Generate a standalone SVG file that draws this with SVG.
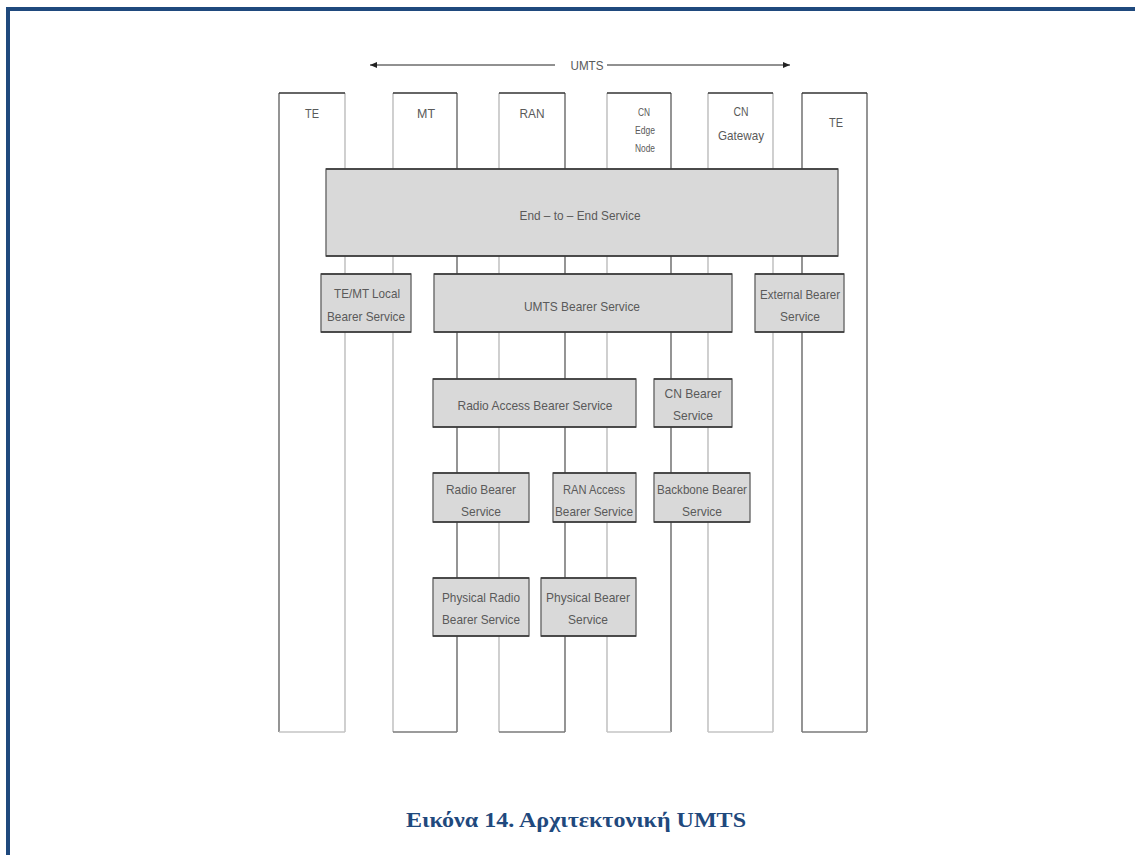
<svg xmlns="http://www.w3.org/2000/svg" width="1135" height="855" viewBox="0 0 1135 855">
<defs>
<marker id="ah" markerWidth="8" markerHeight="8" refX="7" refY="4" orient="auto-start-reverse" markerUnits="userSpaceOnUse">
<path d="M0,1 L7,4 L0,7 Z" fill="#222"/>
</marker>
<style>
.frame{fill:#1f497d}
.col{fill:#fff;stroke:none}
.dk{stroke:#7a7a7a;stroke-width:1.6;fill:none}
.lt{stroke:#c4c4c4;stroke-width:1.6;fill:none}
.top{stroke:#333;stroke-width:1.6;fill:none}
.box{fill:#d9d9d9;stroke:#6a6a6a;stroke-width:1.4}
.bedge{stroke:#333;stroke-width:1.6}
.t{font-family:"Liberation Sans",Arial,sans-serif;font-size:13.5px;fill:#5a5a5a;text-anchor:middle}
.ts{font-family:"Liberation Sans",Arial,sans-serif;font-size:11px;fill:#5a5a5a;text-anchor:middle}
.cap{font-family:"Liberation Serif","Times New Roman",serif;font-size:20px;font-weight:bold;fill:#1f497d;text-anchor:middle}
</style>
</defs>
<rect width="1135" height="855" fill="#fff"/>
<rect class="frame" x="6" y="7" width="1129" height="4"/>
<rect class="frame" x="6" y="7" width="4" height="848"/>

<g id="connectors">
<line x1="555" y1="65" x2="370" y2="65" stroke="#222" stroke-width="1" marker-end="url(#ah)"/>
<line x1="607" y1="65" x2="790" y2="65" stroke="#222" stroke-width="1" marker-end="url(#ah)"/>
<text class="t" x="587" y="70" textLength="33" lengthAdjust="spacingAndGlyphs">UMTS</text>
</g>

<g id="col-te1">
<rect class="col" x="279" y="93" width="66" height="639"/>
<line class="dk" x1="279" y1="93" x2="279" y2="732"/>
<line class="lt" x1="345" y1="93" x2="345" y2="732"/>
<line class="lt" x1="279" y1="732" x2="345" y2="732"/>
<line class="top" x1="279" y1="93" x2="345" y2="93"/>
<text class="t" x="312" y="118" textLength="14" lengthAdjust="spacingAndGlyphs">TE</text>
</g>
<g id="col-mt">
<rect class="col" x="393" y="93" width="64" height="639"/>
<line class="lt" x1="393" y1="93" x2="393" y2="732"/>
<line class="dk" x1="457" y1="93" x2="457" y2="732"/>
<line class="dk" x1="393" y1="732" x2="457" y2="732"/>
<line class="top" x1="393" y1="93" x2="457" y2="93"/>
<text class="t" x="426" y="118" textLength="18" lengthAdjust="spacingAndGlyphs">MT</text>
</g>
<g id="col-ran">
<rect class="col" x="499" y="93" width="66" height="639"/>
<line class="lt" x1="499" y1="93" x2="499" y2="732"/>
<line class="dk" x1="565" y1="93" x2="565" y2="732"/>
<line class="dk" x1="499" y1="732" x2="565" y2="732"/>
<line class="top" x1="499" y1="93" x2="565" y2="93"/>
<text class="t" x="532" y="118" textLength="25" lengthAdjust="spacingAndGlyphs">RAN</text>
</g>
<g id="col-cnedge">
<rect class="col" x="607" y="93" width="64" height="639"/>
<line class="lt" x1="607" y1="93" x2="607" y2="732"/>
<line class="dk" x1="671" y1="93" x2="671" y2="732"/>
<line class="lt" x1="607" y1="732" x2="671" y2="732"/>
<line class="top" x1="607" y1="93" x2="671" y2="93"/>
<text class="ts" x="644" y="116" textLength="12" lengthAdjust="spacingAndGlyphs">CN</text>
<text class="ts" x="645" y="134" textLength="20" lengthAdjust="spacingAndGlyphs">Edge</text>
<text class="ts" x="645" y="152" textLength="20" lengthAdjust="spacingAndGlyphs">Node</text>
</g>
<g id="col-cngw">
<rect class="col" x="708" y="93" width="65" height="639"/>
<line class="lt" x1="708" y1="93" x2="708" y2="732"/>
<line class="lt" x1="773" y1="93" x2="773" y2="732"/>
<line class="lt" x1="708" y1="732" x2="773" y2="732"/>
<line class="top" x1="708" y1="93" x2="773" y2="93"/>
<text class="t" x="741" y="116" textLength="15" lengthAdjust="spacingAndGlyphs">CN</text>
<text class="t" x="741" y="140" textLength="46" lengthAdjust="spacingAndGlyphs">Gateway</text>
</g>
<g id="col-te2">
<rect class="col" x="802" y="93" width="65" height="639"/>
<line class="dk" x1="802" y1="93" x2="802" y2="732"/>
<line class="dk" x1="867" y1="93" x2="867" y2="732"/>
<line class="dk" x1="802" y1="732" x2="867" y2="732"/>
<line class="top" x1="802" y1="93" x2="867" y2="93"/>
<text class="t" x="836" y="127" textLength="14" lengthAdjust="spacingAndGlyphs">TE</text>
</g>

<g id="end-to-end">
<rect class="box" x="326" y="169" width="512" height="87"/>
<line class="bedge" x1="326" y1="169" x2="838" y2="169"/>
<line class="bedge" x1="326" y1="256" x2="838" y2="256"/>
<text class="t" x="580" y="220" textLength="121" lengthAdjust="spacingAndGlyphs">End – to – End Service</text>
</g>
<g id="temt-local">
<rect class="box" x="321" y="274" width="90" height="58"/>
<line class="bedge" x1="321" y1="274" x2="411" y2="274"/>
<line class="bedge" x1="321" y1="332" x2="411" y2="332"/>
<text class="t" x="367" y="298" textLength="66" lengthAdjust="spacingAndGlyphs">TE/MT Local</text>
<text class="t" x="366" y="321" textLength="78" lengthAdjust="spacingAndGlyphs">Bearer Service</text>
</g>
<g id="umts-bearer">
<rect class="box" x="434" y="274" width="298" height="58"/>
<line class="bedge" x1="434" y1="274" x2="732" y2="274"/>
<line class="bedge" x1="434" y1="332" x2="732" y2="332"/>
<text class="t" x="582" y="311" textLength="116" lengthAdjust="spacingAndGlyphs">UMTS Bearer Service</text>
</g>
<g id="external-bearer">
<rect class="box" x="755" y="274" width="89" height="58"/>
<line class="bedge" x1="755" y1="274" x2="844" y2="274"/>
<line class="bedge" x1="755" y1="332" x2="844" y2="332"/>
<text class="t" x="800" y="299" textLength="80" lengthAdjust="spacingAndGlyphs">External Bearer</text>
<text class="t" x="800" y="321" textLength="40" lengthAdjust="spacingAndGlyphs">Service</text>
</g>
<g id="radio-access-bearer">
<rect class="box" x="433" y="379" width="203" height="48"/>
<line class="bedge" x1="433" y1="379" x2="636" y2="379"/>
<line class="bedge" x1="433" y1="427" x2="636" y2="427"/>
<text class="t" x="535" y="410" textLength="155" lengthAdjust="spacingAndGlyphs">Radio Access Bearer Service</text>
</g>
<g id="cn-bearer">
<rect class="box" x="654" y="379" width="78" height="48"/>
<line class="bedge" x1="654" y1="379" x2="732" y2="379"/>
<line class="bedge" x1="654" y1="427" x2="732" y2="427"/>
<text class="t" x="693" y="398" textLength="57" lengthAdjust="spacingAndGlyphs">CN Bearer</text>
<text class="t" x="693" y="420" textLength="40" lengthAdjust="spacingAndGlyphs">Service</text>
</g>
<g id="radio-bearer">
<rect class="box" x="433" y="473" width="96" height="49"/>
<line class="bedge" x1="433" y1="473" x2="529" y2="473"/>
<line class="bedge" x1="433" y1="522" x2="529" y2="522"/>
<text class="t" x="481" y="494" textLength="70" lengthAdjust="spacingAndGlyphs">Radio Bearer</text>
<text class="t" x="481" y="516" textLength="40" lengthAdjust="spacingAndGlyphs">Service</text>
</g>
<g id="ran-access-bearer">
<rect class="box" x="553" y="473" width="83" height="49"/>
<line class="bedge" x1="553" y1="473" x2="636" y2="473"/>
<line class="bedge" x1="553" y1="522" x2="636" y2="522"/>
<text class="t" x="594" y="494" textLength="62" lengthAdjust="spacingAndGlyphs">RAN Access</text>
<text class="t" x="594" y="516" textLength="78" lengthAdjust="spacingAndGlyphs">Bearer Service</text>
</g>
<g id="backbone-bearer">
<rect class="box" x="654" y="473" width="96" height="49"/>
<line class="bedge" x1="654" y1="473" x2="750" y2="473"/>
<line class="bedge" x1="654" y1="522" x2="750" y2="522"/>
<text class="t" x="702" y="494" textLength="90" lengthAdjust="spacingAndGlyphs">Backbone Bearer</text>
<text class="t" x="702" y="516" textLength="40" lengthAdjust="spacingAndGlyphs">Service</text>
</g>
<g id="physical-radio-bearer">
<rect class="box" x="433" y="578" width="96" height="58"/>
<line class="bedge" x1="433" y1="578" x2="529" y2="578"/>
<line class="bedge" x1="433" y1="636" x2="529" y2="636"/>
<text class="t" x="481" y="602" textLength="78" lengthAdjust="spacingAndGlyphs">Physical Radio</text>
<text class="t" x="481" y="624" textLength="78" lengthAdjust="spacingAndGlyphs">Bearer Service</text>
</g>
<g id="physical-bearer">
<rect class="box" x="541" y="578" width="95" height="58"/>
<line class="bedge" x1="541" y1="578" x2="636" y2="578"/>
<line class="bedge" x1="541" y1="636" x2="636" y2="636"/>
<text class="t" x="588" y="602" textLength="84" lengthAdjust="spacingAndGlyphs">Physical Bearer</text>
<text class="t" x="588" y="624" textLength="40" lengthAdjust="spacingAndGlyphs">Service</text>
</g>

<text class="cap" x="576" y="827" textLength="340" lengthAdjust="spacingAndGlyphs">Εικόνα 14. Αρχιτεκτονική UMTS</text>
</svg>
